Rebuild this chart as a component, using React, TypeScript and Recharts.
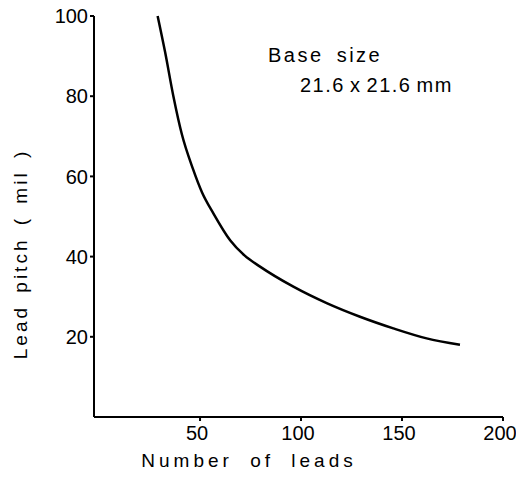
import React from "react";
import { LineChart, Line, XAxis, YAxis } from "recharts";

const leads = [29, 32.7, 36.8, 41, 46.4, 51, 56.6, 64.9, 72, 79.7, 96.2, 112.7, 129.2, 145.7, 162.2, 178.7];
const pitch = [100, 91, 80, 70.5, 62, 56, 50.8, 44.1, 40.3, 37.5, 32.5, 28.4, 25, 22.1, 19.6, 18];
const xTicks = [50, 100, 150, 200];
const yTicks = [20, 40, 60, 80, 100];
const xTitle = "Number of leads";
const yTitle = "Lead pitch ( mil )";
const note1 = "Base size";
const note2 = "21.6 x 21.6 mm";

const data = leads.map((x, i) => ({ x, y: pitch[i] }));

const FONT = "'Liberation Sans', Arial, sans-serif";

export default function App() {
  return (
    <div style={{ margin: -8, position: "relative", width: 524, height: 477, background: "#fff" }}>
      <LineChart
        width={524}
        height={477}
        data={data}
        margin={{ top: 16, right: 21, bottom: 30, left: 34 }}
      >
        <XAxis
          dataKey="x"
          type="number"
          domain={[-2.5, 200]}
          allowDataOverflow
          ticks={xTicks}
          height={30}
          stroke="#000"
          strokeWidth={2}
          tickSize={4}
          tickMargin={5}
          tick={{ fill: "#000", fontSize: 20, fontFamily: FONT, dx: -3 }}
        />
        <YAxis
          dataKey="y"
          type="number"
          domain={[0, 100]}
          ticks={yTicks}
          width={60}
          stroke="#000"
          strokeWidth={2}
          tickSize={4}
          tickMargin={2}
          tick={{ fill: "#000", fontSize: 20, fontFamily: FONT }}
        />
        <Line
          dataKey="y"
          type="monotone"
          stroke="#000"
          strokeWidth={2.5}
          dot={false}
          isAnimationActive={false}
        />
      </LineChart>
      <svg
        width={524}
        height={477}
        style={{ position: "absolute", left: 0, top: 0, pointerEvents: "none" }}
        fontFamily={FONT}
      >
        <text x={249} y={467} textAnchor="middle" fontSize={19} letterSpacing={4} wordSpacing={8} fill="#000">
          {xTitle}
        </text>
        <text
          x={0}
          y={0}
          transform="translate(27,254) rotate(-90)"
          textAnchor="middle"
          fontSize={19}
          letterSpacing={3}
          wordSpacing={4}
          fill="#000"
        >
          {yTitle}
        </text>
        <text x={268} y={62} fontSize={20} letterSpacing={2.5} wordSpacing={5} fill="#000">
          {note1}
        </text>
        <text x={300} y={92} fontSize={20} letterSpacing={1.5} wordSpacing={-2} fill="#000">
          {note2}
        </text>
      </svg>
    </div>
  );
}
